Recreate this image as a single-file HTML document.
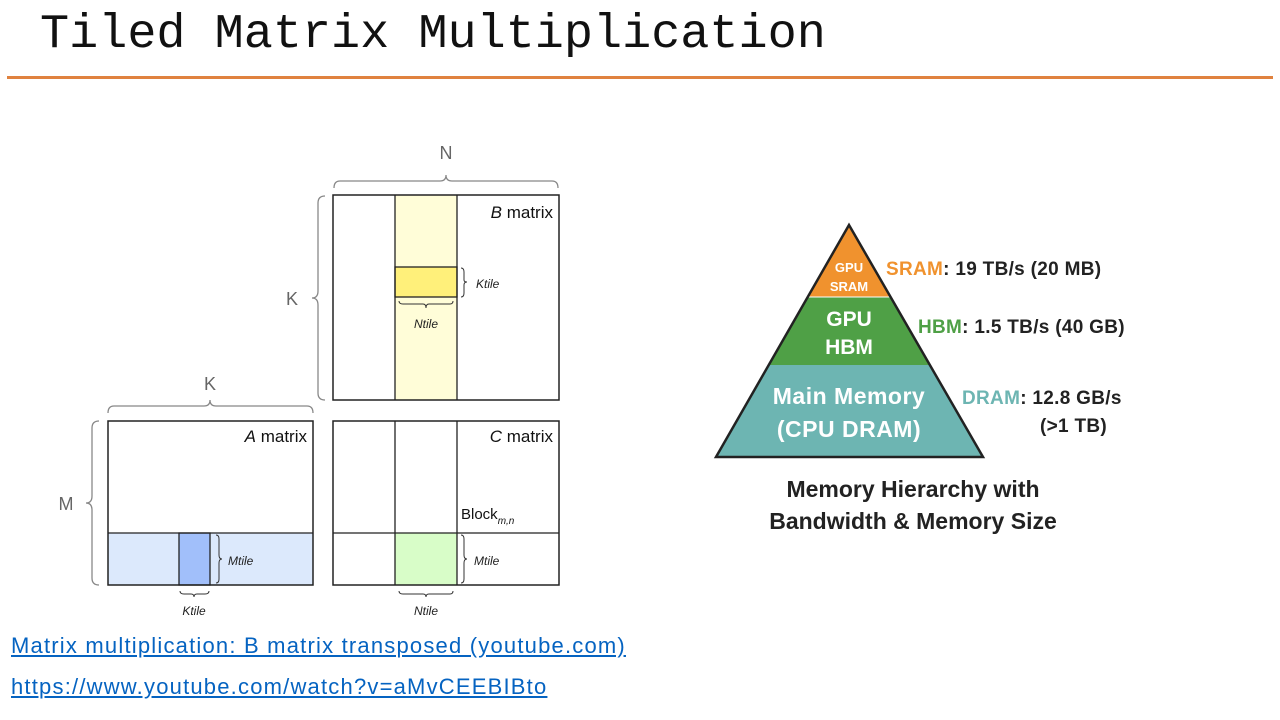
<!DOCTYPE html>
<html><head><meta charset="utf-8"><style>
body{margin:0;width:1280px;height:720px;background:#fff;position:relative;overflow:hidden;font-family:"Liberation Sans",sans-serif}
.t{position:absolute;left:40px;top:7px;font-family:"Liberation Mono",monospace;font-size:48.5px;color:#111}
.hr{position:absolute;left:7px;top:76px;width:1266px;height:3px;background:#E0823F}
.l{position:absolute;left:11px;font-size:22px;letter-spacing:1.2px;color:#0563C1;text-decoration:underline}
</style></head><body>
<div class="t">Tiled Matrix Multiplication</div>
<div class="hr"></div>
<svg width="1280" height="720" style="position:absolute;left:0;top:0" font-family="Liberation Sans, sans-serif">
<g fill="none" stroke="#888" stroke-width="1.3">
<path d="M334,188 Q334,181 340,181 L440,181 Q446,181 446,175 Q446,181 452,181 L552,181 Q558,181 558,188"/>
<path d="M325,196 Q318,196 318,203 L318,291 Q318,298 312,298 Q318,298 318,305 L318,393 Q318,400 325,400"/>
<path d="M108,413 Q108,406 114,406 L204,406 Q210,406 210,400 Q210,406 216,406 L307,406 Q313,406 313,413"/>
<path d="M99,421 Q92,421 92,428 L92,496 Q92,503 86,503 Q92,503 92,510 L92,578 Q92,585 99,585"/>
</g>
<g font-size="18" fill="#666" text-anchor="middle">
<text x="446" y="159">N</text><text x="292" y="305">K</text><text x="210" y="390">K</text><text x="66" y="510">M</text>
</g>
<rect x="395" y="195" width="62" height="205" fill="#FFFDD8"/>
<rect x="395" y="267" width="62" height="30" fill="#FFF07A" stroke="#222" stroke-width="1.3"/>
<rect x="333" y="195" width="226" height="205" fill="none" stroke="#222" stroke-width="1.5"/>
<path d="M395,195V400M457,195V400" stroke="#222" stroke-width="1.3"/>
<rect x="108" y="533" width="205" height="52" fill="#DCE9FC"/>
<rect x="179" y="533" width="31" height="52" fill="#A1BFFA" stroke="#222" stroke-width="1.3"/>
<rect x="108" y="421" width="205" height="164" fill="none" stroke="#222" stroke-width="1.5"/>
<path d="M108,533H313" stroke="#222" stroke-width="1.3"/>
<rect x="395" y="533" width="62" height="52" fill="#D8FDC8"/>
<rect x="333" y="421" width="226" height="164" fill="none" stroke="#222" stroke-width="1.5"/>
<path d="M395,421V585M457,421V585M333,533H559" stroke="#222" stroke-width="1.3"/>
<g fill="none" stroke="#333" stroke-width="1">
<path d="M461,268 Q464,268 464,272 L464,280 Q464,282 467,282 Q464,282 464,285 L464,293 Q464,297 461,297"/>
<path d="M399,301 Q399,304 403,304 L423,304 Q426,304 426,308 Q426,304 429,304 L450,304 Q453,304 453,301"/>
<path d="M216,535 Q219,535 219,539 L219,555 Q219,559 222,559 Q219,559 219,563 L219,579 Q219,583 216,583"/>
<path d="M461,535 Q464,535 464,539 L464,555 Q464,559 467,559 Q464,559 464,563 L464,579 Q464,583 461,583"/>
<path d="M180,591 Q180,594 184,594 L191,594 Q194,594 194,597 Q194,594 197,594 L205,594 Q209,594 209,591"/>
<path d="M399,591 Q399,594 403,594 L423,594 Q426,594 426,597 Q426,594 429,594 L450,594 Q453,594 453,591"/>
</g>
<g font-size="12" font-style="italic" fill="#222">
<text x="476" y="288">Ktile</text><text x="426" y="328" text-anchor="middle">Ntile</text>
<text x="228" y="565">Mtile</text><text x="474" y="565">Mtile</text>
<text x="194" y="615" text-anchor="middle">Ktile</text><text x="426" y="615" text-anchor="middle">Ntile</text>
</g>
<g font-size="17" fill="#111" text-anchor="end">
<text x="553" y="218"><tspan font-style="italic">B</tspan> matrix</text>
<text x="307" y="442"><tspan font-style="italic">A</tspan> matrix</text>
<text x="553" y="442"><tspan font-style="italic">C</tspan> matrix</text>
</g>
<text x="461" y="519" font-size="15" fill="#111">Block<tspan font-size="10" font-style="italic" dy="5">m,n</tspan></text>
<!-- pyramid -->
<polygon points="849,225 890,297 808,297" fill="#F0922E"/>
<polygon points="808,297 890,297 930,365 768,365" fill="#4FA046"/>
<polygon points="768,365 930,365 983,457 716,457" fill="#6DB5B2"/>
<path d="M808,297H890" stroke="#fff" stroke-width="1"/>
<polygon points="849,225 983,457 716,457" fill="none" stroke="#222" stroke-width="2.5"/>
<g font-weight="bold" fill="#fff" text-anchor="middle">
<text x="849" y="272" font-size="13">GPU</text><text x="849" y="291" font-size="13">SRAM</text>
<text x="849" y="326" font-size="21">GPU</text><text x="849" y="354" font-size="21">HBM</text>
<text x="849" y="404" font-size="23" letter-spacing="0.5">Main Memory</text><text x="849" y="437" font-size="23" letter-spacing="0.5">(CPU DRAM)</text>
</g>
<g font-weight="bold" font-size="19" fill="#222" letter-spacing="0.3">
<text x="886" y="275"><tspan fill="#F0922E">SRAM</tspan>: 19 TB/s (20 MB)</text>
<text x="918" y="333"><tspan fill="#4FA046">HBM</tspan>: 1.5 TB/s (40 GB)</text>
<text x="962" y="404"><tspan fill="#6DB5B2">DRAM</tspan>: 12.8 GB/s</text>
<text x="1040" y="432">(&gt;1 TB)</text>
</g>
<g font-weight="bold" font-size="23" fill="#222" text-anchor="middle">
<text x="913" y="497">Memory Hierarchy with</text>
<text x="913" y="529">Bandwidth &amp; Memory Size</text>
</g>
</svg>
<div class="l" style="top:633px">Matrix multiplication: B matrix transposed (youtube.com)</div>
<div class="l" style="top:674px">https://www.youtube.com/watch?v=aMvCEEBIBto</div>
</body></html>
